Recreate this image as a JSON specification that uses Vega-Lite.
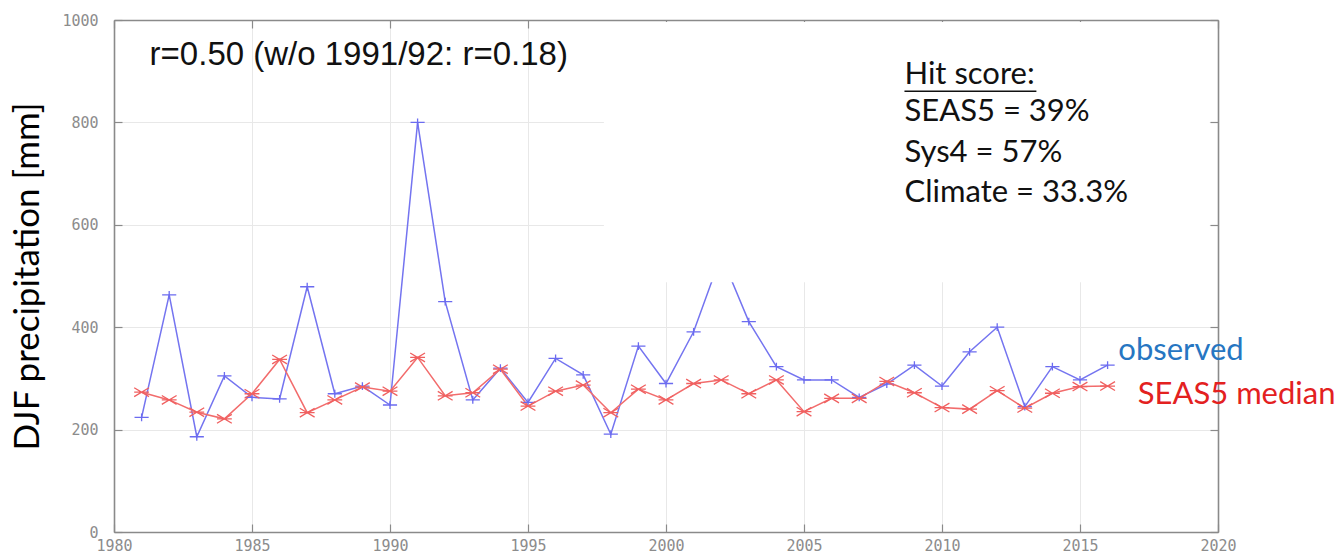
{
  "$schema": "https://vega.github.io/schema/vega-lite/v6.json",
  "width": 1104,
  "height": 512,
  "autosize": "none",
  "padding": {"left": 114, "top": 20, "right": 119, "bottom": 25},
  "background": "white",
  "config": {
    "view": {"stroke": null},
    "axis": {
      "domainColor": "#8a8a8a",
      "domainWidth": 1.6,
      "tickColor": "#8a8a8a",
      "tickWidth": 1.2,
      "gridColor": "#e8e8e8",
      "gridWidth": 1,
      "labelFont": "DejaVu Sans Mono",
      "labelFontSize": 15,
      "labelColor": "#8c8c8c",
      "titleFont": "Lato",
      "titleColor": "#000000"
    }
  },
  "datasets": {
    "series": [
      {"year": 1981, "observed": 224, "seas5": 273},
      {"year": 1982, "observed": 463, "seas5": 258},
      {"year": 1983, "observed": 186, "seas5": 234},
      {"year": 1984, "observed": 305, "seas5": 221},
      {"year": 1985, "observed": 263, "seas5": 270},
      {"year": 1986, "observed": 260, "seas5": 337},
      {"year": 1987, "observed": 479, "seas5": 233},
      {"year": 1988, "observed": 270, "seas5": 258},
      {"year": 1989, "observed": 285, "seas5": 283},
      {"year": 1990, "observed": 248, "seas5": 275},
      {"year": 1991, "observed": 800, "seas5": 341},
      {"year": 1992, "observed": 450, "seas5": 266},
      {"year": 1993, "observed": 258, "seas5": 272},
      {"year": 1994, "observed": 320, "seas5": 318},
      {"year": 1995, "observed": 253, "seas5": 246},
      {"year": 1996, "observed": 339, "seas5": 275},
      {"year": 1997, "observed": 307, "seas5": 287},
      {"year": 1998, "observed": 191, "seas5": 233},
      {"year": 1999, "observed": 363, "seas5": 279},
      {"year": 2000, "observed": 290, "seas5": 258},
      {"year": 2001, "observed": 391, "seas5": 290},
      {"year": 2002, "observed": 540, "seas5": 297},
      {"year": 2003, "observed": 411, "seas5": 270},
      {"year": 2004, "observed": 323, "seas5": 297},
      {"year": 2005, "observed": 297, "seas5": 235},
      {"year": 2006, "observed": 297, "seas5": 261},
      {"year": 2007, "observed": 263, "seas5": 261},
      {"year": 2008, "observed": 289, "seas5": 294},
      {"year": 2009, "observed": 326, "seas5": 272},
      {"year": 2010, "observed": 285, "seas5": 243},
      {"year": 2011, "observed": 352, "seas5": 240},
      {"year": 2012, "observed": 400, "seas5": 276},
      {"year": 2013, "observed": 245, "seas5": 242},
      {"year": 2014, "observed": 323, "seas5": 271},
      {"year": 2015, "observed": 297, "seas5": 284},
      {"year": 2016, "observed": 326, "seas5": 285}
    ]
  },
  "resolve": {"axis": {"x": "independent", "y": "independent"}},
  "layer": [
    {
      "data": {"name": "series"},
      "encoding": {
        "x": {
          "field": "year", "type": "quantitative",
          "scale": {"domain": [1980, 2020], "nice": false, "zero": false},
          "axis": {"orient": "bottom", "values": [1980, 1985, 1990, 1995, 2000, 2005, 2010, 2015, 2020], "format": "d", "title": null, "grid": true, "tickSize": -8, "labelPadding": 14, "labelFlush": false, "labelOverlap": false}
        }
      },
      "layer": [
        {
          "mark": {"type": "line", "color": "#7474f0", "strokeWidth": 1.5},
          "encoding": {
            "y": {
              "field": "observed", "type": "quantitative",
              "scale": {"domain": [0, 1000], "nice": false},
              "axis": {"orient": "left", "values": [0, 200, 400, 600, 800, 1000], "format": "d", "title": "DJF precipitation [mm]", "titleFontSize": 35, "titleFontWeight": "normal", "titleAngle": -90, "titleX": -87, "titleY": 256, "titleAlign": "center", "titleBaseline": "middle", "grid": true, "tickSize": -8, "labelPadding": 24, "labelFlush": false, "labelOverlap": false}
            }
          }
        },
        {
          "mark": {"type": "line", "color": "#f26c6c", "strokeWidth": 1.5},
          "encoding": {"y": {"field": "seas5", "type": "quantitative"}}
        },
        {
          "mark": {"type": "point", "shape": "M-1,0L1,0M0,-0.55L0,0.55", "size": 200, "filled": false, "color": "#6b6bf0", "strokeWidth": 1.3, "opacity": 1},
          "encoding": {"y": {"field": "observed", "type": "quantitative"}}
        },
        {
          "mark": {"type": "point", "shape": "M-1,-0.6L1,0.6M-1,0.6L1,-0.6M-1,0L1,0", "size": 220, "filled": false, "color": "#f06060", "strokeWidth": 1.3, "opacity": 1},
          "encoding": {"y": {"field": "seas5", "type": "quantitative"}}
        }
      ]
    },
    {
      "data": {"values": [{}]},
      "encoding": {
        "x": {"type": "quantitative", "axis": {"orient": "top", "values": [1980, 1985, 1990, 1995, 2000, 2005, 2010, 2015, 2020], "labels": false, "title": null, "grid": false, "tickSize": -8}},
        "y": {"type": "quantitative", "axis": {"orient": "right", "values": [0, 200, 400, 600, 800, 1000], "labels": false, "title": null, "grid": false, "tickSize": -8}}
      },
      "layer": [
        {
          "mark": {"type": "rect", "color": "white"},
          "encoding": {
            "x": {"datum": 1997.75, "type": "quantitative"},
            "x2": {"datum": 2019.7},
            "y": {"datum": 488, "type": "quantitative"},
            "y2": {"datum": 996}
          }
        },
        {
          "mark": {"type": "text", "text": "r=0.50 (w/o 1991/92: r=0.18)", "font": "Liberation Sans", "fontSize": 33, "align": "left", "baseline": "middle", "color": "#111111"},
          "encoding": {"x": {"datum": 1981.29, "type": "quantitative"}, "y": {"datum": 931, "type": "quantitative"}}
        },
        {
          "mark": {"type": "text", "text": "Hit score:", "font": "Lato", "fontSize": 31, "align": "left", "baseline": "middle", "color": "#111111"},
          "encoding": {"x": {"datum": 2008.64, "type": "quantitative"}, "y": {"datum": 892, "type": "quantitative"}}
        },
        {
          "mark": {"type": "rule", "color": "#111111", "strokeWidth": 1.5},
          "encoding": {"x": {"datum": 2008.64, "type": "quantitative"}, "x2": {"datum": 2013.42}, "y": {"datum": 861, "type": "quantitative"}}
        },
        {
          "mark": {"type": "text", "text": "SEAS5 = 39%", "font": "Lato", "fontSize": 31, "align": "left", "baseline": "middle", "color": "#111111"},
          "encoding": {"x": {"datum": 2008.64, "type": "quantitative"}, "y": {"datum": 820, "type": "quantitative"}}
        },
        {
          "mark": {"type": "text", "text": "Sys4 = 57%", "font": "Lato", "fontSize": 31, "align": "left", "baseline": "middle", "color": "#111111"},
          "encoding": {"x": {"datum": 2008.64, "type": "quantitative"}, "y": {"datum": 740, "type": "quantitative"}}
        },
        {
          "mark": {"type": "text", "text": "Climate = 33.3%", "font": "Lato", "fontSize": 31, "align": "left", "baseline": "middle", "color": "#111111"},
          "encoding": {"x": {"datum": 2008.64, "type": "quantitative"}, "y": {"datum": 662, "type": "quantitative"}}
        },
        {
          "mark": {"type": "text", "text": "observed", "font": "Lato", "fontSize": 31, "align": "left", "baseline": "middle", "color": "#2676c2"},
          "encoding": {"x": {"datum": 2016.39, "type": "quantitative"}, "y": {"datum": 353, "type": "quantitative"}}
        },
        {
          "mark": {"type": "text", "text": "SEAS5 median", "font": "Lato", "fontSize": 31, "align": "left", "baseline": "middle", "color": "#e3211f"},
          "encoding": {"x": {"datum": 2017.09, "type": "quantitative"}, "y": {"datum": 268, "type": "quantitative"}}
        }
      ]
    }
  ]
}
